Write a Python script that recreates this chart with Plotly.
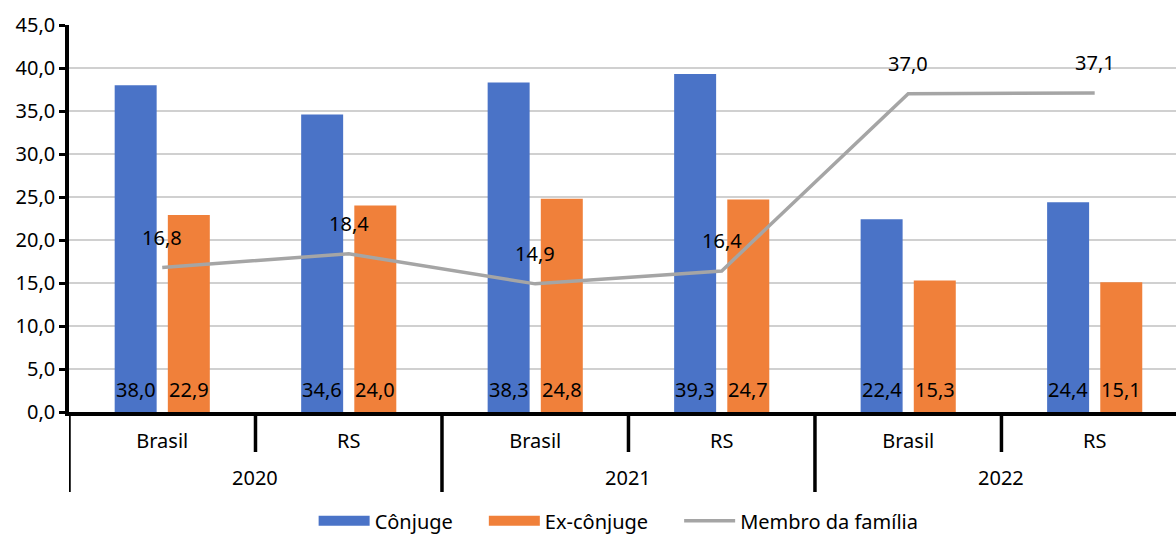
import plotly.graph_objects as go

# Categories (year groups and locations)
years = ["2020", "2021", "2022"]
locations = ["Brasil", "RS", "Brasil", "RS", "Brasil", "RS"]

# Series values (%)
conjuge = [38.0, 34.6, 38.3, 39.3, 22.4, 24.4]
ex_conjuge = [22.9, 24.0, 24.8, 24.7, 15.3, 15.1]
membro_familia = [16.8, 18.4, 14.9, 16.4, 37.0, 37.1]

y_ticks = [0, 5, 10, 15, 20, 25, 30, 35, 40, 45]

FONT = "Noto Sans, Open Sans, sans-serif"
FS = 20
BLUE = "#4A73C7"
ORANGE = "#F0803A"
GRAY = "#A5A5A5"
xpos = list(range(len(locations)))


def fmt(v):
    return f"{v:.1f}".replace(".", ",")


fig = go.Figure()

fig.add_trace(go.Bar(x=xpos, y=conjuge, name="Cônjuge", showlegend=False,
                     marker=dict(color=BLUE, line=dict(width=0))))
fig.add_trace(go.Bar(x=xpos, y=ex_conjuge, name="Ex-cônjuge", showlegend=False,
                     marker=dict(color=ORANGE, line=dict(width=0))))
fig.add_trace(go.Scatter(x=xpos, y=membro_familia, name="Membro da família",
                         mode="lines", line=dict(color=GRAY, width=3.5),
                         showlegend=False, cliponaxis=False))

# Legend entries drawn as wide swatches (non-breaking spaces pad the gap between entries)
PAD = "\u00a0" * 5
for nm, col, w in [("Cônjuge" + PAD, BLUE, 10), ("Ex-cônjuge" + PAD, ORANGE, 10),
                   ("Membro da família", GRAY, 3.5)]:
    fig.add_trace(go.Scatter(x=[None], y=[None], mode="lines", name=nm,
                             line=dict(color=col, width=w)))

annotations = []
# Bar value labels near the base of each bar
slot = (1 - 0.43) / 2
for series, off in [(conjuge, -slot / 2), (ex_conjuge, slot / 2)]:
    for i, v in enumerate(series):
        annotations.append(dict(x=i + off, y=0, xref="x", yref="y", text=fmt(v),
                                showarrow=False, yanchor="middle", yshift=23,
                                font=dict(size=FS, color="black", family=FONT)))
# Line value labels above each point
for i, v in enumerate(membro_familia):
    annotations.append(dict(x=i, y=v, xref="x", yref="y", text=fmt(v),
                            showarrow=False, yanchor="middle", yshift=30,
                            font=dict(size=FS, color="black", family=FONT)))
# Year group labels
for k, yr in enumerate(years):
    annotations.append(dict(x=2 * k + 0.5, y=-0.1705, xref="x", yref="paper",
                            text=yr, showarrow=False, yanchor="middle",
                            font=dict(size=FS, color="black", family=FONT)))

# Category dividers below the axis: short between locations, long between years
shapes = []
for i in range(len(locations) + 1):
    b = i - 0.5
    long_div = (i % 2 == 0)
    shapes.append(dict(type="line", xref="x", yref="paper",
                       x0=b, x1=b, y0=0, y1=-0.2067 if long_div else -0.1034,
                       line=dict(color="black", width=3.5)))

fig.update_layout(
    width=1176, height=535,
    margin=dict(l=69, r=0, t=25, b=123, autoexpand=False),
    paper_bgcolor="white", plot_bgcolor="white",
    separators=",.",
    barmode="group", bargap=0.43, bargroupgap=0.21,
    font=dict(family=FONT, size=FS, color="black"),
    shapes=shapes, annotations=annotations,
    showlegend=True,
    legend=dict(orientation="h", x=0.4965, xanchor="center", y=-0.281, yanchor="middle",
                font=dict(size=FS, color="black", family=FONT),
                itemwidth=51, traceorder="normal",
                bgcolor="rgba(0,0,0,0)"),
)

fig.update_xaxes(
    range=[-0.5, 5.436], tickmode="array", tickvals=xpos, ticktext=locations,
    showgrid=False, zeroline=False, showline=True, linecolor="black", linewidth=3.5,
    ticks="", ticklabelstandoff=8,
    tickfont=dict(size=FS, color="black", family=FONT),
)
fig.update_yaxes(
    range=[0, 45], tickmode="array", tickvals=y_ticks, tickformat=".1f",
    showgrid=True, gridcolor="#D0D0D0", gridwidth=1.5, zeroline=False,
    showline=True, linecolor="black", linewidth=3.5,
    ticks="outside", ticklen=6, tickwidth=3, tickcolor="black",
    tickfont=dict(size=FS, color="black", family=FONT),
)

fig.write_html("out.html")
